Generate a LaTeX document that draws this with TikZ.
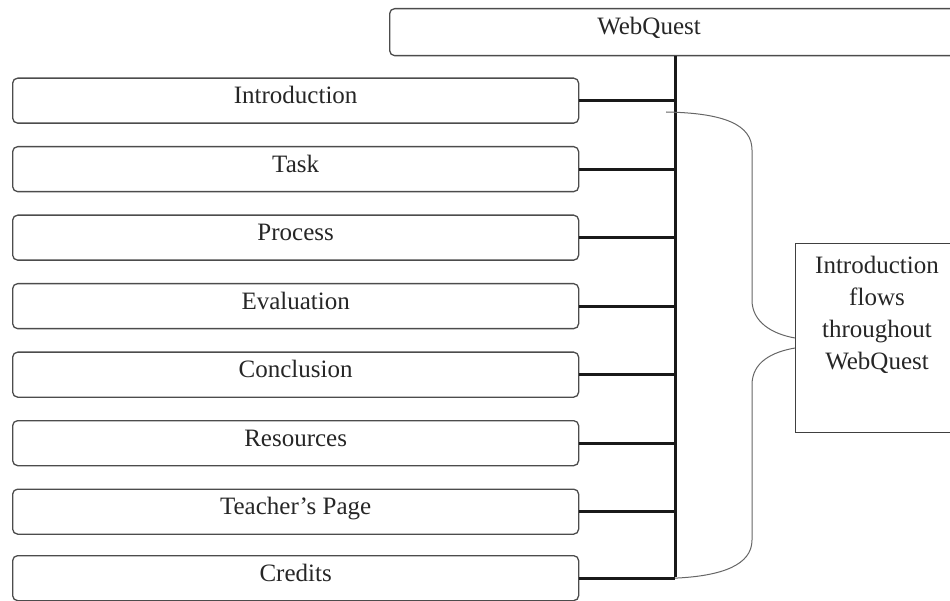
\documentclass[tikz,border=0pt]{standalone}
\usepackage{fontspec}
\setmainfont{Liberation Serif}
\begin{document}
\begin{tikzpicture}[x=1pt,y=-1pt,
  every node/.style={font=\fontsize{25}{32}\selectfont, text=black!85},
  itembox/.style={draw=black!70, line width=1.3pt, rounded corners=5pt, anchor=north west,
    minimum width=566pt, minimum height=45pt, inner sep=0pt, text height=17pt, text depth=11pt},
  bigbox/.style={draw=black!70, line width=1.3pt, rounded corners=5pt, anchor=north west, inner sep=0pt},
  sidebox/.style={draw=black!75, line width=1.1pt, anchor=north west, inner sep=0pt},
  link/.style={line width=3.2pt, draw=black!90},
  spine/.style={line width=3pt, draw=black!90},
  brace/.style={line width=1pt, draw=black!60}
]
\useasboundingbox (0,0) rectangle (950,601);
% top box
\node[bigbox, minimum width=640pt, minimum height=47pt] (wq) at (389,8) {};
\node[anchor=base] (wqt) at (649,35) {WebQuest};
% items
\node[itembox] (intro) at (12,77.5) {Introduction};
\node[itembox] (task) at (12,146) {Task};
\node[itembox] (proc) at (12,214.5) {Process};
\node[itembox] (eval) at (12,283) {Evaluation};
\node[itembox] (concl) at (12,351.5) {Conclusion};
\node[itembox] (res) at (12,420) {Resources};
\node[itembox] (teach) at (12,488.5) {Teacher's Page};
\node[itembox] (cred) at (12,555) {Credits};
% spine
\coordinate (sp) at (675,0);
\draw[spine] (wq.south -| sp) -- ([yshift=1.5pt]cred.east -| sp);
\foreach \n in {intro,task,proc,eval,concl,res,teach,cred}
  \draw[link] (\n.east) -- (\n.east -| sp);
% side box
\node[sidebox, minimum width=300pt, minimum height=189pt] (side) at (795,243) {};
\node[align=center, anchor=north] (sidet) at (877,253) {Introduction\\flows\\throughout\\WebQuest};
% brace
\coordinate (b1) at (666,112);
\coordinate (b2) at (side.west |- 0,338);
\coordinate (b3) at (side.west |- 0,348);
\coordinate (b4) at (cred.east -| sp);
\draw[brace] (b1) .. controls (725,113) and (752,125) .. (752,150) -- (752,300)
  .. controls (752,322) and (772,334) .. (b2);
\draw[brace] (b3) .. controls (772,352) and (752,362) .. (752,385) -- (752,540)
  .. controls (752,565) and (722,576) .. (b4);
\end{tikzpicture}
\end{document}
